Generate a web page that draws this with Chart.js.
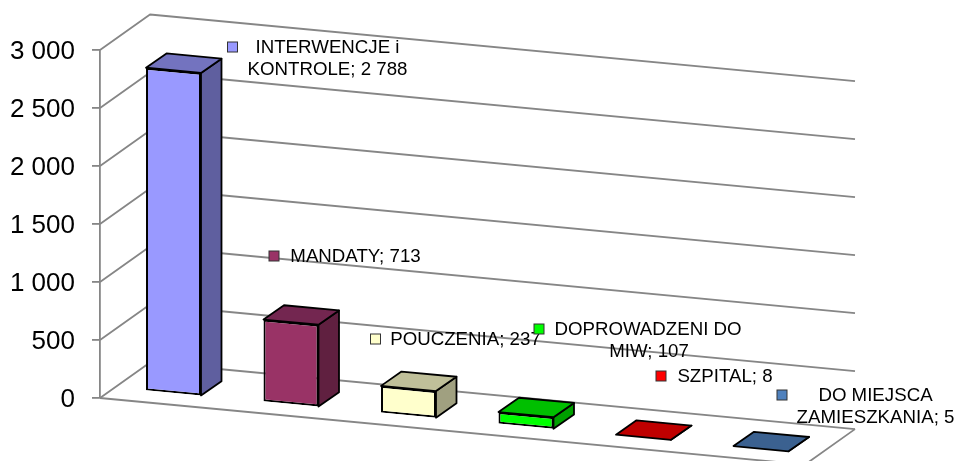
<!DOCTYPE html>
<html>
<head>
<meta charset="utf-8">
<style>html,body{margin:0;padding:0;background:#fff}canvas{display:block}</style>
<script src="https://cdn.jsdelivr.net/npm/chart.js@4"></script>
</head>
<body>
<canvas id="c" width="957" height="461"></canvas>
<script>
const categories = ["INTERWENCJE i KONTROLE", "MANDATY", "POUCZENIA", "DOPROWADZENI DO MIW", "SZPITAL", "DO MIEJSCA ZAMIESZKANIA"];
const values = [2788, 713, 237, 107, 8, 5];
const yTicks = [0, 500, 1000, 1500, 2000, 2500, 3000];
const frontColors = ["#9999FF", "#993366", "#FFFFCC", "#00FF00", "#FF0000", "#4F81BD"];
const topColors = ["#7373BF", "#732650", "#BFBF99", "#00BF00", "#BF0000", "#3B6190"];
const sideColors = ["#5F5F9F", "#602040", "#A0A080", "#00A000", "#A00000", "#315078"];
// label placement: key left edge, key centre y, text centre x per line, first line centre y, wrap width
const labelLayout = [
  {kx: 227.5, ky: 47, tx: [327.5, 327.5], ty: 48, wrap: 175},
  {kx: 269, ky: 256, tx: [355.5], ty: 257, wrap: 200},
  {kx: 370.5, ky: 339, tx: [465.5], ty: 340, wrap: 200},
  {kx: 534, ky: 329, tx: [648, 649], ty: 330, wrap: 200},
  {kx: 656, ky: 376, tx: [725], ty: 377, wrap: 200},
  {kx: 777, ky: 395, tx: [875.5, 875.5], ty: 396, wrap: 165}
];
const FONT = '"Liberation Sans", Arial, sans-serif';
const GRID = '#868686';
const wallDx = 50, wallDy = -35.5, slope = 0.0945;   // perspective of the box
const barDx = 14.75, barDy = -9.8;                   // bar offset into the floor
const depthX = 20.5, depthY = -14.3;                 // bar depth
const fmt = v => String(v).replace(/\B(?=(\d{3})+$)/g, ' ');

const threeD = {
  id: 'threeD',
  beforeDatasetsDraw(chart) {
    const {ctx, chartArea: a, scales: {y}} = chart;
    const w = a.right - a.left;
    ctx.save();
    ctx.strokeStyle = GRID;
    ctx.lineWidth = 1.8;
    ctx.lineJoin = 'round';
    yTicks.forEach(t => {
      const py = y.getPixelForValue(t);
      ctx.beginPath();
      ctx.moveTo(a.left, py);
      ctx.lineTo(a.left + wallDx, py + wallDy);
      ctx.lineTo(a.right + wallDx, py + wallDy + w * slope);
      ctx.stroke();
    });
    const py0 = y.getPixelForValue(0);
    ctx.beginPath();
    ctx.moveTo(a.left, py0);
    ctx.lineTo(a.right, py0 + w * slope);
    ctx.lineTo(a.right + wallDx, py0 + wallDy + w * slope);
    ctx.stroke();
    ctx.restore();
  },
  beforeDatasetDraw(chart) {
    const {ctx, chartArea: a} = chart;
    ctx.save();
    ctx.transform(1, slope, 0, 1, barDx, barDy - slope * a.left);
  },
  afterDatasetDraw(chart, args) {
    const {ctx, chartArea: a} = chart;
    ctx.restore();
    const P = (x, y) => [x + barDx, y + barDy + slope * (x - a.left)];
    const poly = (pts, fill) => {
      ctx.beginPath();
      pts.forEach((p, i) => i ? ctx.lineTo(p[0], p[1]) : ctx.moveTo(p[0], p[1]));
      ctx.closePath();
      ctx.fillStyle = fill;
      ctx.fill();
      ctx.stroke();
    };
    ctx.save();
    ctx.strokeStyle = '#000';
    ctx.lineWidth = 1.8;
    ctx.lineJoin = 'round';
    args.meta.data.forEach((el, i) => {
      const {x, y, base, width} = el.getProps(['x', 'y', 'base', 'width'], true);
      const tl = P(x - width / 2, y), tr = P(x + width / 2, y), br = P(x + width / 2, base);
      const back = p => [p[0] + depthX, p[1] + depthY];
      poly([tr, br, back(br), back(tr)], sideColors[i]);
      poly([tl, tr, back(tr), back(tl)], topColors[i]);
    });
    ctx.restore();
  },
  afterDatasetsDraw(chart) {
    const {ctx} = chart;
    ctx.save();
    ctx.font = '18.7px ' + FONT;
    ctx.textAlign = 'center';
    ctx.textBaseline = 'middle';
    categories.forEach((cat, i) => {
      const L = labelLayout[i];
      ctx.fillStyle = frontColors[i];
      ctx.strokeStyle = '#333';
      ctx.lineWidth = 1;
      ctx.fillRect(L.kx, L.ky - 5, 10, 10);
      ctx.strokeRect(L.kx, L.ky - 5, 10, 10);
      const words = (cat + '; ' + fmt(values[i])).split(' ');
      const lines = [];
      let cur = '';
      words.forEach(word => {
        const t = cur ? cur + ' ' + word : word;
        if (ctx.measureText(t).width > L.wrap && cur) { lines.push(cur); cur = word; }
        else cur = t;
      });
      lines.push(cur);
      ctx.fillStyle = '#000';
      lines.forEach((ln, k) => ctx.fillText(ln, L.tx[k], L.ty + k * 22));
    });
    ctx.restore();
  }
};

new Chart(document.getElementById('c'), {
  type: 'bar',
  data: {
    labels: categories,
    datasets: [{
      data: values,
      backgroundColor: frontColors,
      borderColor: '#000',
      borderWidth: 2,
      borderSkipped: false,
      categoryPercentage: 1,
      barPercentage: 0.468,
      clip: false
    }]
  },
  options: {
    responsive: false,
    animation: false,
    layout: {padding: {left: 0, right: 152, top: 50, bottom: 63}},
    plugins: {legend: {display: false}, tooltip: {enabled: false}},
    scales: {
      x: {display: false},
      y: {
        min: 0,
        max: 3000,
        afterFit: s => {
          s.width = 100;
          // nudge tick labels down to sit where the reference has them
          s._computeLabelItems = function (area) {
            const items = Object.getPrototypeOf(this)._computeLabelItems.call(this, area);
            items.forEach(it => { it.options.translation = [it.options.translation[0], it.options.translation[1] + 2]; });
            return items;
          };
        },
        afterBuildTicks: s => { s.ticks = yTicks.map(value => ({value})); },
        grid: {drawOnChartArea: false, drawTicks: true, tickLength: 8, color: GRID, lineWidth: 1.8},
        border: {display: true, color: GRID, width: 1.8},
        ticks: {
          color: '#000',
          padding: 17,
          font: {family: FONT, size: 26},
          callback: v => fmt(v)
        }
      }
    }
  },
  plugins: [threeD]
});
</script>
</body>
</html>
